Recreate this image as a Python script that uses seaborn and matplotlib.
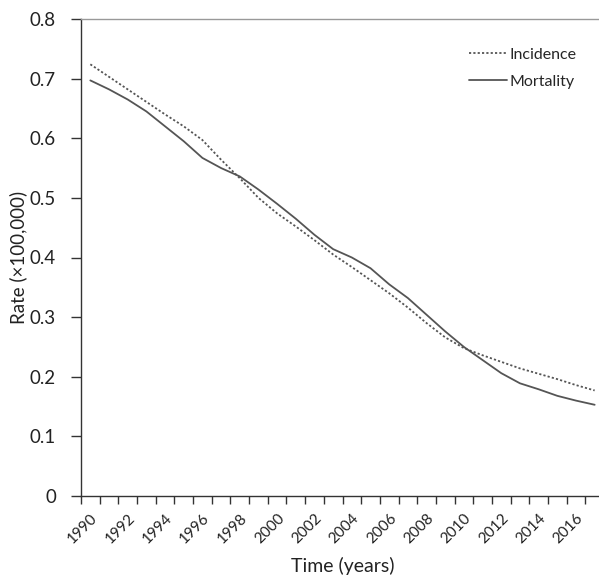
import pandas as pd
import numpy as np
import seaborn as sns
import matplotlib.pyplot as plt

# data
years = list(range(1990, 2018))
incidence = [0.724, 0.703, 0.682, 0.661, 0.640, 0.620, 0.597, 0.564, 0.533, 0.500,
             0.474, 0.452, 0.429, 0.405, 0.384, 0.362, 0.340, 0.316, 0.290, 0.266,
             0.248, 0.236, 0.225, 0.214, 0.205, 0.196, 0.186, 0.177]
mortality = [0.697, 0.682, 0.665, 0.645, 0.620, 0.595, 0.567, 0.550, 0.536, 0.514,
             0.490, 0.465, 0.438, 0.414, 0.400, 0.382, 0.355, 0.332, 0.304, 0.276,
             0.250, 0.228, 0.206, 0.189, 0.179, 0.168, 0.160, 0.153]
series_names = ['Incidence', 'Mortality']
y_ticks = [0, 0.1, 0.2, 0.3, 0.4, 0.5, 0.6, 0.7, 0.8]

df = pd.DataFrame({'Year': years * 2,
                   'Rate': incidence + mortality,
                   'Series': [series_names[0]] * len(years) + [series_names[1]] * len(years)})

sns.set_style('white')
plt.rcParams['font.family'] = ['Lato', 'DejaVu Sans']

fig = plt.figure(figsize=(5.99, 5.78), dpi=100)
ax = fig.add_axes([81 / 599, 82 / 578, 523 / 599, 477 / 578])

sns.lineplot(data=df, x='Year', y='Rate', style='Series', style_order=series_names,
             dashes={'Incidence': (1.2, 1.2), 'Mortality': ''}, color='#555555',
             linewidth=1.3, ax=ax)

# category axis like excel: points in the middle, ticks between
ax.set_xlim(1989.5, 2017.5)
ax.set_xticks([y for y in years if y % 2 == 0])
ax.set_xticklabels([str(y) for y in years if y % 2 == 0], rotation=45, ha='right',
                   rotation_mode='anchor', fontsize=11, color='#222222')
ax.set_xticks(np.arange(1989.5, 2018.0, 1.0), minor=True)
ax.tick_params(axis='x', which='major', length=0, pad=11)
ax.tick_params(axis='x', which='minor', length=6, width=1, color='#333333', direction='out', bottom=True)

ax.set_ylim(0, 0.8)
ax.set_yticks(y_ticks)
ax.set_yticklabels(['0'] + [f'{v:.1f}' for v in y_ticks[1:]], fontsize=13.5, color='#222222')
ax.tick_params(axis='y', length=7, width=1, color='#333333', direction='out', left=True, pad=11)

for side in ['left', 'bottom']:
    ax.spines[side].set_color('#333333')
    ax.spines[side].set_linewidth(1)
ax.spines['top'].set_color('#999999')
ax.spines['top'].set_linewidth(1)
ax.spines['right'].set_visible(False)

ax.set_xlabel('Time (years)', fontsize=14, color='#222222', labelpad=8)
ax.set_ylabel('Rate (×100,000)', fontsize=13.5, color='#222222', labelpad=2)

ax.legend(loc='upper right', bbox_to_anchor=(0.975, 0.97), frameon=False, fontsize=11.5,
          handlelength=2.4, handletextpad=0.15, labelspacing=0.8)

fig.savefig('out.png', dpi=100)
